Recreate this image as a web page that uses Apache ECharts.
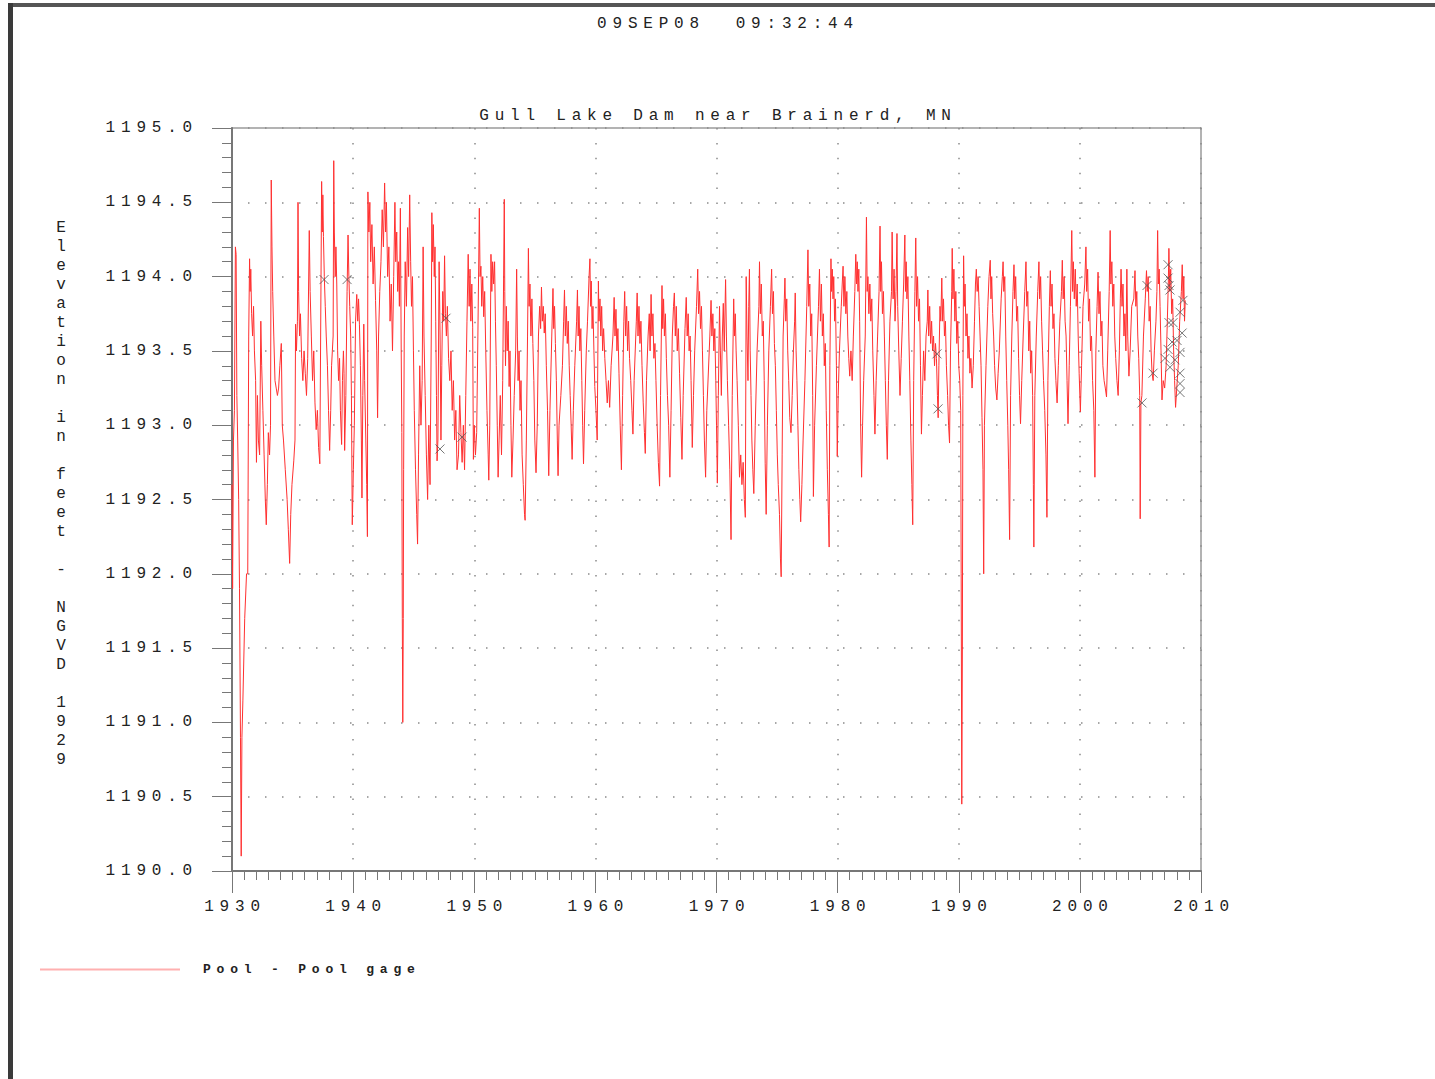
<!DOCTYPE html>
<html>
<head>
<meta charset="utf-8">
<script src="https://cdn.jsdelivr.net/npm/echarts@6/dist/echarts.min.js"></script>
<style>
    html, body { margin: 0; padding: 0; background: #fff; }
    #main { width: 1435px; height: 1079px; }
    #main text { letter-spacing: 5.8px; }
</style>
</head>
<body>
<div id="main"></div>
<script>
// pool elevation, [decimal year, feet NGVD 1929]
let poolGage = [
    [1930.00,1192.6],[1930.05,1191.9],[1930.12,1192.9],[1930.2,1193.1],[1930.28,1194.2],[1930.34,1194.15],[1930.4,1193.2],[1930.47,1192.9],[1930.55,1192.5],[1930.62,1191.9],[1930.7,1190.9],[1930.76,1190.1],[1930.82,1190.9],[1930.9,1191.15],[1931.05,1191.7],[1931.2,1192.0],
    [1931.3,1192.0],[1931.38,1193.6],[1931.45,1194.12],[1931.5,1193.9],[1931.55,1194.05],[1931.62,1193.75],[1931.7,1193.6],[1931.78,1193.8],[1931.85,1193.5],[1931.95,1193.3],
    [1932.02,1192.75],[1932.1,1193.2],[1932.18,1192.9],[1932.28,1192.8],[1932.38,1193.7],[1932.45,1193.4],[1932.55,1193.1],[1932.65,1192.8],[1932.75,1192.5],[1932.83,1192.33],[1932.92,1192.6],[1933.0,1192.95],[1933.1,1192.8],[1933.18,1193.0],
    [1933.24,1194.65],[1933.3,1194.2],[1933.36,1193.9],[1933.45,1193.6],[1933.55,1193.3],[1933.65,1193.25],[1933.75,1193.2],[1933.85,1193.25],[1933.95,1193.4],[1934.07,1193.55],
    [1934.15,1193.0],[1934.25,1192.9],[1934.4,1192.7],[1934.55,1192.5],[1934.65,1192.3],[1934.76,1192.07],[1934.85,1192.4],[1934.95,1192.6],[1935.1,1192.76],[1935.2,1192.9],
    [1935.25,1193.68],[1935.32,1193.5],[1935.4,1193.7],[1935.45,1194.5],[1935.5,1193.9],[1935.58,1193.6],[1935.65,1193.75],[1935.75,1193.45],[1935.85,1193.3],[1935.95,1193.5],[1936.05,1193.35],[1936.15,1193.2],[1936.25,1193.45],
    [1936.38,1194.31],[1936.45,1193.9],[1936.55,1193.6],[1936.65,1193.3],[1936.75,1193.5],[1936.85,1193.15],[1936.95,1192.97],[1937.05,1193.1],[1937.15,1192.85],[1937.25,1192.74],
    [1937.4,1194.64],[1937.45,1194.3],[1937.5,1194.55],[1937.55,1194.27],[1937.62,1194.0],[1937.7,1193.8],[1937.78,1193.6],[1937.88,1193.4],[1937.97,1193.1],[1938.06,1192.83],[1938.15,1193.1],[1938.22,1193.4],
    [1938.35,1193.6],[1938.4,1194.78],[1938.45,1194.3],[1938.52,1194.0],[1938.58,1194.2],[1938.65,1193.95],[1938.72,1193.5],[1938.8,1193.3],[1938.88,1193.45],[1938.95,1193.1],[1939.05,1192.87],[1939.12,1193.3],[1939.2,1193.5],[1939.25,1193.35],[1939.3,1192.83],
    [1939.4,1193.2],[1939.5,1193.9],[1939.58,1194.28],[1939.65,1194.0],[1939.72,1193.8],[1939.8,1193.6],[1939.86,1193.2],[1939.93,1192.33],[1940.02,1192.7],
    [1940.1,1193.0],[1940.2,1193.7],[1940.3,1193.88],[1940.38,1193.7],[1940.45,1193.85],[1940.52,1193.68],[1940.6,1193.4],[1940.68,1192.9],[1940.73,1192.51],[1940.8,1193.2],[1940.88,1193.68],[1940.95,1193.3],[1941.05,1192.9],[1941.12,1192.6],[1941.18,1192.25],
    [1941.22,1194.57],[1941.3,1194.3],[1941.38,1194.5],[1941.45,1194.1],[1941.55,1194.35],[1941.65,1193.95],[1941.75,1194.2],[1941.85,1193.84],[1941.95,1193.5],[1942.02,1193.05],[1942.1,1193.6],[1942.2,1193.9],
    [1942.3,1194.1],[1942.4,1194.45],[1942.5,1194.2],[1942.6,1194.63],[1942.68,1194.3],[1942.75,1194.5],[1942.85,1194.0],[1942.95,1194.2],[1943.05,1193.7],[1943.15,1193.95],[1943.25,1193.5],
    [1943.35,1194.0],[1943.45,1194.5],[1943.52,1194.1],[1943.6,1194.3],[1943.68,1193.9],[1943.75,1194.1],[1943.82,1193.8],[1943.9,1194.46],[1943.97,1193.5],[1944.02,1192.95],[1944.06,1191.7],[1944.1,1191.0],[1944.14,1191.7],[1944.17,1192.7],
    [1944.22,1193.6],[1944.3,1194.1],[1944.4,1193.8],[1944.5,1194.33],[1944.58,1194.0],[1944.67,1194.55],[1944.75,1194.1],[1944.82,1193.8],[1944.9,1194.0],[1944.98,1193.5],[1945.05,1193.1],[1945.15,1192.7],[1945.25,1192.4],[1945.32,1192.2],[1945.4,1192.8],
    [1945.5,1193.4],[1945.6,1193.0],[1945.7,1193.3],[1945.78,1194.2],[1945.85,1193.6],[1945.95,1193.2],[1946.05,1192.8],[1946.15,1192.5],[1946.25,1193.0],[1946.35,1192.6],
    [1946.45,1193.6],[1946.5,1194.43],[1946.56,1194.1],[1946.62,1194.35],[1946.7,1194.0],[1946.76,1194.2],[1946.82,1193.7],[1946.88,1193.2],[1946.93,1192.76],[1947.0,1192.9],
    [1947.1,1194.1],[1947.18,1193.6],[1947.25,1192.9],[1947.32,1193.4],[1947.4,1193.9],[1947.48,1193.7],[1947.55,1194.14],[1947.62,1193.75],[1947.7,1193.6],[1947.78,1193.8],[1947.88,1193.45],[1947.98,1193.3],[1948.08,1193.5],[1948.18,1193.1],[1948.28,1193.3],[1948.38,1192.9],[1948.48,1193.1],[1948.58,1192.7],
    [1948.7,1192.8],[1948.8,1193.2],[1948.9,1192.95],[1949.0,1192.75],[1949.1,1193.0],[1949.2,1192.7],[1949.3,1193.2],[1949.4,1193.7],[1949.5,1194.15],[1949.58,1193.8],[1949.65,1194.05],[1949.72,1193.7],[1949.8,1193.95],[1949.87,1193.66],[1949.93,1192.77],[1950.0,1193.0],[1950.1,1192.8],[1950.2,1192.95],[1950.3,1193.6],
    [1950.42,1194.46],[1950.48,1194.0],[1950.55,1194.07],[1950.62,1193.8],[1950.7,1194.0],[1950.78,1193.73],[1950.86,1193.9],[1950.95,1193.5],[1951.05,1193.1],[1951.15,1192.8],[1951.2,1192.63],[1951.28,1193.0],
    [1951.38,1194.15],[1951.45,1193.9],[1951.52,1194.1],[1951.6,1193.95],[1951.68,1194.1],[1951.75,1193.7],[1951.82,1193.4],[1951.9,1193.0],[1951.97,1192.65],[1952.05,1192.9],[1952.15,1193.2],[1952.25,1192.8],[1952.35,1193.3],
    [1952.48,1194.52],[1952.52,1193.9],[1952.58,1193.4],[1952.65,1193.8],[1952.72,1193.5],[1952.8,1193.7],[1952.88,1193.26],[1952.95,1193.5],[1953.03,1193.0],[1953.1,1192.65],[1953.2,1192.9],[1953.3,1193.2],
    [1953.42,1193.5],[1953.5,1194.05],[1953.56,1193.6],[1953.62,1193.3],[1953.7,1193.5],[1953.78,1193.1],[1953.86,1193.3],[1953.95,1192.8],[1954.05,1192.6],[1954.15,1192.4],[1954.2,1192.36],[1954.3,1192.9],
    [1954.4,1193.6],[1954.47,1194.19],[1954.53,1193.8],[1954.6,1193.95],[1954.68,1193.6],[1954.76,1193.85],[1954.84,1193.55],[1954.92,1193.3],[1955.0,1192.9],[1955.1,1192.68],[1955.2,1193.0],
    [1955.3,1193.6],[1955.4,1193.8],[1955.48,1193.65],[1955.55,1193.93],[1955.62,1193.7],[1955.7,1193.8],[1955.78,1193.62],[1955.86,1193.75],[1955.95,1193.4],[1956.05,1193.1],[1956.15,1192.66],[1956.25,1193.1],
    [1956.4,1193.6],[1956.5,1193.92],[1956.56,1193.65],[1956.63,1193.8],[1956.7,1193.55],[1956.78,1193.3],[1956.86,1192.9],[1956.92,1192.66],[1957.0,1193.0],[1957.15,1193.2],[1957.28,1193.4],
    [1957.38,1193.7],[1957.45,1193.91],[1957.52,1193.6],[1957.6,1193.8],[1957.68,1193.55],[1957.76,1193.7],[1957.84,1193.4],[1957.92,1193.2],[1958.0,1193.0],[1958.08,1192.77],[1958.18,1193.1],[1958.3,1193.4],
    [1958.45,1193.7],[1958.52,1193.91],[1958.58,1193.6],[1958.65,1193.8],[1958.72,1193.5],[1958.8,1193.65],[1958.88,1193.3],[1958.95,1193.0],[1959.02,1192.74],[1959.12,1193.1],[1959.25,1193.5],
    [1959.35,1193.7],[1959.48,1194.0],[1959.55,1194.12],[1959.6,1193.8],[1959.66,1193.97],[1959.73,1193.65],[1959.8,1193.8],[1959.88,1193.5],[1959.95,1193.26],[1960.05,1193.1],[1960.15,1192.9],
    [1960.25,1193.97],[1960.3,1193.7],[1960.38,1193.85],[1960.45,1193.6],[1960.52,1193.8],[1960.6,1193.5],[1960.68,1193.65],[1960.78,1193.45],[1960.88,1193.3],[1960.98,1193.15],[1961.08,1193.3],[1961.18,1193.12],[1961.3,1193.4],
    [1961.45,1193.6],[1961.55,1193.86],[1961.62,1193.6],[1961.7,1193.78],[1961.78,1193.5],[1961.86,1193.65],[1961.95,1193.35],[1962.05,1193.0],[1962.15,1192.7],[1962.25,1193.2],
    [1962.35,1193.7],[1962.42,1193.9],[1962.5,1193.6],[1962.58,1193.8],[1962.66,1193.5],[1962.74,1193.7],[1962.82,1193.45],[1962.92,1193.3],[1963.02,1193.1],[1963.1,1192.94],[1963.2,1193.3],
    [1963.38,1193.7],[1963.45,1193.89],[1963.52,1193.6],[1963.6,1193.8],[1963.68,1193.55],[1963.76,1193.7],[1963.85,1193.4],[1963.95,1193.15],[1964.05,1192.95],[1964.12,1192.81],[1964.22,1193.3],
    [1964.35,1193.6],[1964.45,1193.75],[1964.52,1193.5],[1964.6,1193.88],[1964.67,1193.6],[1964.75,1193.75],[1964.83,1193.45],[1964.92,1193.55],[1965.0,1193.3],[1965.1,1193.0],[1965.2,1192.75],[1965.3,1192.59],[1965.38,1193.2],
    [1965.5,1193.94],[1965.56,1193.65],[1965.63,1193.85],[1965.7,1193.6],[1965.78,1193.75],[1965.86,1193.45],[1965.95,1193.2],[1966.05,1193.0],[1966.15,1192.65],[1966.25,1193.1],
    [1966.35,1193.6],[1966.45,1193.8],[1966.52,1193.89],[1966.6,1193.6],[1966.68,1193.8],[1966.76,1193.5],[1966.85,1193.65],[1966.95,1193.35],[1967.05,1193.05],[1967.15,1192.77],[1967.25,1193.2],
    [1967.4,1193.65],[1967.5,1193.86],[1967.58,1193.6],[1967.66,1193.75],[1967.74,1193.5],[1967.82,1193.6],[1967.9,1193.3],[1968.0,1192.85],[1968.1,1193.2],[1968.2,1193.5],
    [1968.35,1193.8],[1968.45,1194.05],[1968.52,1193.75],[1968.6,1193.9],[1968.68,1193.65],[1968.76,1193.8],[1968.84,1193.5],[1968.92,1193.2],[1969.0,1192.9],[1969.1,1192.65],[1969.2,1193.1],
    [1969.45,1193.6],[1969.55,1193.84],[1969.62,1193.6],[1969.7,1193.75],[1969.78,1193.5],[1969.86,1193.65],[1969.94,1193.3],[1970.0,1193.0],[1970.07,1192.61],[1970.15,1193.2],
    [1970.25,1193.8],[1970.32,1193.5],[1970.4,1193.2],[1970.48,1193.6],[1970.56,1193.82],[1970.64,1193.5],[1970.75,1193.98],[1970.82,1193.6],[1970.9,1193.3],[1971.0,1193.0],[1971.1,1192.7],[1971.2,1192.23],[1971.3,1193.2],
    [1971.42,1193.85],[1971.48,1193.6],[1971.55,1193.75],[1971.62,1193.5],[1971.7,1193.3],[1971.8,1193.0],[1971.9,1192.65],[1972.0,1192.8],[1972.1,1192.6],[1972.2,1192.75],[1972.3,1192.5],[1972.38,1192.38],
    [1972.45,1194.0],[1972.52,1193.6],[1972.6,1193.3],[1972.66,1193.8],[1972.72,1194.05],[1972.78,1193.5],[1972.85,1193.2],[1972.92,1192.9],[1973.0,1192.7],[1973.08,1192.54],[1973.2,1193.0],[1973.35,1193.5],
    [1973.5,1193.8],[1973.55,1194.1],[1973.62,1193.75],[1973.7,1193.95],[1973.78,1193.6],[1973.86,1193.7],[1973.94,1193.3],[1974.02,1192.74],[1974.1,1192.4],[1974.2,1193.0],[1974.32,1193.5],
    [1974.45,1193.8],[1974.55,1194.05],[1974.62,1193.75],[1974.7,1193.9],[1974.78,1193.55],[1974.86,1193.4],[1974.94,1193.1],[1975.02,1192.8],[1975.1,1192.6],[1975.2,1192.4],[1975.28,1192.1],[1975.34,1191.98],[1975.42,1192.8],
    [1975.5,1193.6],[1975.6,1193.85],[1975.65,1193.99],[1975.72,1193.7],[1975.8,1193.85],[1975.88,1193.5],[1975.96,1193.3],[1976.05,1193.05],[1976.15,1192.95],[1976.25,1193.2],
    [1976.35,1193.5],[1976.45,1193.7],[1976.5,1193.89],[1976.57,1193.5],[1976.64,1193.3],[1976.72,1193.0],[1976.8,1192.7],[1976.88,1192.5],[1976.95,1192.35],[1977.05,1192.6],[1977.15,1192.9],[1977.3,1193.3],
    [1977.45,1193.8],[1977.55,1194.18],[1977.62,1193.8],[1977.7,1193.95],[1977.78,1193.6],[1977.86,1193.75],[1977.94,1193.2],[1978.0,1192.52],[1978.1,1193.0],[1978.25,1193.4],
    [1978.42,1193.8],[1978.5,1194.05],[1978.58,1193.7],[1978.66,1193.95],[1978.74,1193.6],[1978.82,1193.75],[1978.9,1193.4],[1978.98,1193.55],[1979.06,1193.1],[1979.15,1192.7],[1979.24,1192.4],[1979.3,1192.18],[1979.36,1193.4],
    [1979.45,1194.12],[1979.5,1193.9],[1979.56,1194.05],[1979.62,1193.85],[1979.68,1194.0],[1979.75,1193.7],[1979.82,1193.85],[1979.9,1193.4],[1979.97,1192.79],[1980.05,1193.2],[1980.15,1193.5],
    [1980.3,1193.8],[1980.38,1193.95],[1980.45,1194.07],[1980.52,1193.8],[1980.6,1194.0],[1980.68,1193.75],[1980.76,1193.9],[1980.84,1193.6],[1980.92,1193.45],[1981.0,1193.33],[1981.1,1193.5],[1981.2,1193.3],[1981.3,1193.6],
    [1981.42,1193.9],[1981.5,1194.15],[1981.56,1193.95],[1981.62,1194.1],[1981.68,1193.9],[1981.75,1194.05],[1981.82,1193.7],[1981.9,1193.0],[1981.98,1192.65],[1982.06,1193.0],[1982.15,1193.3],[1982.28,1193.6],
    [1982.38,1194.4],[1982.44,1193.9],[1982.5,1194.0],[1982.58,1193.75],[1982.66,1193.95],[1982.74,1193.7],[1982.82,1193.85],[1982.9,1193.5],[1983.0,1193.2],[1983.08,1192.94],[1983.18,1193.3],[1983.3,1193.6],
    [1983.42,1193.9],[1983.5,1194.34],[1983.56,1193.9],[1983.62,1194.1],[1983.7,1193.75],[1983.78,1193.9],[1983.86,1193.6],[1983.94,1193.3],[1984.02,1193.0],[1984.1,1192.77],[1984.2,1193.3],[1984.32,1193.7],
    [1984.45,1193.9],[1984.5,1194.3],[1984.58,1193.85],[1984.66,1194.05],[1984.74,1193.7],[1984.82,1193.9],[1984.9,1194.29],[1984.96,1193.8],[1985.05,1193.5],[1985.15,1193.2],[1985.25,1193.45],[1985.35,1193.7],
    [1985.45,1193.95],[1985.55,1194.28],[1985.6,1193.9],[1985.66,1194.1],[1985.72,1193.85],[1985.8,1194.0],[1985.88,1193.6],[1985.96,1193.3],[1986.05,1192.9],[1986.13,1192.6],[1986.2,1192.33],[1986.28,1193.3],
    [1986.38,1193.9],[1986.45,1194.26],[1986.52,1193.8],[1986.6,1194.0],[1986.68,1193.7],[1986.76,1193.85],[1986.84,1193.4],[1986.92,1192.94],[1987.0,1193.2],[1987.1,1193.5],[1987.2,1193.3],[1987.3,1193.6],
    [1987.4,1193.7],[1987.45,1193.91],[1987.52,1193.6],[1987.6,1193.8],[1987.68,1193.55],[1987.76,1193.7],[1987.84,1193.5],[1987.92,1193.6],[1988.0,1193.4],[1988.08,1193.55],[1988.16,1193.45],[1988.24,1193.2],[1988.3,1193.05],[1988.36,1193.4],
    [1988.45,1193.8],[1988.52,1193.7],[1988.6,1193.99],[1988.67,1193.7],[1988.74,1193.85],[1988.82,1193.6],[1988.9,1193.7],[1988.98,1193.4],[1989.08,1193.2],[1989.16,1193.0],[1989.24,1192.88],[1989.32,1193.5],
    [1989.42,1193.9],[1989.46,1194.19],[1989.52,1193.85],[1989.6,1194.05],[1989.68,1193.7],[1989.76,1193.9],[1989.84,1193.55],[1989.92,1193.7],[1990.0,1193.4],[1990.08,1193.3],[1990.16,1193.1],[1990.2,1192.0],[1990.25,1190.45],[1990.3,1191.5],[1990.34,1193.2],
    [1990.4,1194.14],[1990.46,1193.8],[1990.52,1193.95],[1990.6,1193.6],[1990.68,1193.75],[1990.76,1193.45],[1990.84,1193.6],[1990.92,1193.35],[1991.0,1193.45],[1991.1,1193.25],[1991.2,1193.4],
    [1991.3,1193.7],[1991.38,1193.95],[1991.45,1194.05],[1991.52,1193.9],[1991.6,1194.0],[1991.68,1193.8],[1991.76,1193.6],[1991.84,1193.4],[1991.92,1193.05],[1992.0,1192.7],[1992.06,1192.0],[1992.12,1193.0],[1992.25,1193.4],
    [1992.4,1193.8],[1992.5,1194.0],[1992.6,1194.11],[1992.66,1193.85],[1992.72,1194.0],[1992.8,1193.75],[1992.88,1193.6],[1992.96,1193.4],[1993.05,1193.25],[1993.15,1193.17],[1993.25,1193.35],[1993.35,1193.5],
    [1993.5,1193.85],[1993.6,1194.0],[1993.66,1194.1],[1993.72,1193.9],[1993.8,1194.0],[1993.88,1193.6],[1993.96,1193.3],[1994.05,1193.0],[1994.12,1192.7],[1994.2,1192.23],[1994.28,1193.2],[1994.38,1193.6],
    [1994.48,1193.9],[1994.56,1194.08],[1994.62,1193.85],[1994.7,1194.0],[1994.78,1193.7],[1994.86,1193.8],[1994.94,1193.45],[1995.02,1193.2],[1995.1,1193.01],[1995.2,1193.3],[1995.32,1193.6],
    [1995.45,1193.9],[1995.55,1194.1],[1995.62,1193.8],[1995.7,1193.9],[1995.78,1193.5],[1995.86,1193.7],[1995.94,1193.35],[1996.02,1193.5],[1996.1,1193.2],[1996.16,1192.6],[1996.2,1192.18],[1996.28,1193.2],[1996.4,1193.6],
    [1996.52,1193.9],[1996.62,1194.1],[1996.68,1193.85],[1996.76,1194.0],[1996.84,1193.7],[1996.92,1193.5],[1997.0,1193.3],[1997.1,1193.1],[1997.2,1192.8],[1997.28,1192.38],[1997.36,1193.3],
    [1997.48,1193.8],[1997.56,1194.04],[1997.62,1193.8],[1997.7,1193.95],[1997.78,1193.65],[1997.86,1193.75],[1997.94,1193.45],[1998.02,1193.3],[1998.12,1193.15],[1998.22,1193.4],[1998.35,1193.7],
    [1998.48,1193.9],[1998.55,1194.11],[1998.62,1193.85],[1998.7,1194.0],[1998.78,1193.7],[1998.86,1193.6],[1998.94,1193.3],[1999.02,1193.01],[1999.12,1193.4],[1999.22,1193.8],
    [1999.33,1194.31],[1999.4,1193.9],[1999.46,1194.1],[1999.54,1193.85],[1999.62,1194.05],[1999.7,1193.8],[1999.78,1193.95],[1999.86,1193.6],[1999.94,1193.35],[2000.04,1193.09],[2000.14,1193.4],[2000.26,1193.8],
    [2000.4,1193.95],[2000.5,1194.2],[2000.56,1193.9],[2000.64,1194.05],[2000.72,1193.7],[2000.8,1193.85],[2000.88,1193.5],[2000.96,1193.6],[2001.05,1193.3],[2001.15,1193.1],[2001.24,1192.65],[2001.32,1193.5],
    [2001.42,1193.8],[2001.5,1194.03],[2001.58,1193.75],[2001.66,1193.9],[2001.74,1193.6],[2001.82,1193.7],[2001.9,1193.4],[2002.0,1193.3],[2002.1,1193.25],[2002.2,1193.19],[2002.3,1193.5],
    [2002.42,1193.9],[2002.5,1194.31],[2002.56,1193.95],[2002.64,1194.1],[2002.72,1193.8],[2002.8,1193.95],[2002.88,1193.6],[2002.96,1193.45],[2003.06,1193.3],[2003.16,1193.2],[2003.26,1193.5],
    [2003.34,1193.85],[2003.4,1194.05],[2003.48,1193.8],[2003.56,1193.95],[2003.64,1193.6],[2003.72,1193.75],[2003.8,1193.5],[2003.88,1194.05],[2003.95,1193.6],[2004.05,1193.33],[2004.15,1193.5],[2004.28,1193.8],
    [2004.45,1193.85],[2004.55,1194.04],[2004.62,1193.8],[2004.7,1193.9],[2004.78,1193.6],[2004.86,1193.45],[2004.94,1193.2],[2004.98,1192.37],[2005.04,1193.15],[2005.12,1193.2],[2005.25,1193.6],
    [2005.4,1193.85],[2005.5,1194.04],[2005.56,1193.9],[2005.64,1194.0],[2005.72,1193.7],[2005.8,1193.8],[2005.88,1193.5],[2005.96,1193.35],[2006.05,1193.3],[2006.15,1193.5],[2006.28,1193.7],
    [2006.36,1193.9],[2006.42,1194.31],[2006.48,1193.95],[2006.55,1194.05],[2006.62,1193.8],[2006.7,1193.5],[2006.78,1193.17],[2006.88,1193.3],[2007.0,1193.25],[2007.12,1193.4],[2007.22,1193.7],
    [2007.3,1193.95],[2007.35,1194.19],[2007.42,1193.9],[2007.5,1194.05],[2007.58,1193.75],[2007.66,1193.85],[2007.74,1193.5],[2007.82,1193.3],[2007.9,1193.12],[2008.0,1193.25],[2008.12,1193.4],[2008.24,1193.7],
    [2008.38,1193.9],[2008.45,1194.08],[2008.52,1193.85],[2008.58,1194.0],[2008.64,1193.7],[2008.7,1193.84]
]

// manual gage readings drawn as x marks
let observed = [
    [1937.6,1193.98],[1939.5,1193.98],[1947.67,1193.72],[1947.17,1192.84],[1948.99,1192.92],
    [1988.2,1193.48],[1988.29,1193.11],
    [2005.54,1193.94],[2006.04,1193.35],[2005.13,1193.15],
    [2007.28,1194.08],[2007.28,1193.99],[2007.36,1193.94],[2007.44,1193.91],[2008.51,1193.84],
    [2008.27,1193.76],[2007.69,1193.69],[2007.36,1193.69],[2008.02,1193.57],[2007.61,1193.56],
    [2007.28,1193.51],[2008.27,1193.49],[2007.03,1193.45],[2007.44,1193.39],[2008.27,1193.35],
    [2008.27,1193.28],[2008.27,1193.22],[2008.44,1193.62],[2007.85,1193.44]
]

let yearTicks = [1930, 2010, 10]
let elevTicks = [1190, 1195, 0.5]

let monoFont = "'Liberation Mono', 'DejaVu Sans Mono', monospace"

let myChart = echarts.init(document.getElementById('main'), null, { renderer: 'svg' })

let option = {
    backgroundColor: '#ffffff',
    animation: false,
    grid: {
        left: 232,
        right: 234,
        top: 128,
        bottom: 208,
        show: true,
        borderColor: '#9a9a9a',
        borderWidth: 1.5,
    },
    legend: {
        left: 35,
        top: 958,
        itemWidth: 140,
        itemHeight: 2,
        data: [{ name: 'Pool - Pool gage', icon: 'rect', itemStyle: { color: '#ffb0b0' } }],
        textStyle: {
            fontFamily: monoFont,
            fontSize: 13,
            fontWeight: 'bold',
            color: '#222',
            padding: [0, 0, 0, 18],
        },
    },
    xAxis: {
        type: 'value',
        min: yearTicks[0],
        max: yearTicks[1],
        interval: yearTicks[2],
        axisLine: { lineStyle: { color: '#777', width: 2 } },
        axisTick: { length: 22, lineStyle: { color: '#777', width: 1 } },
        minorTick: { show: true, splitNumber: 10, length: 9, lineStyle: { color: '#777', width: 1 } },
        axisLabel: {
            margin: 28,
            fontFamily: monoFont,
            fontSize: 16,
            color: '#222',
            padding: [0, 0, 0, 6],
            formatter: function (v) {
                return String(v)
            },
        },
        splitLine: {
            show: true,
            lineStyle: { color: '#8a8a8a', width: 1.5, type: [1.5, 13.4], dashOffset: 0 },
        },
    },
    yAxis: {
        type: 'value',
        min: elevTicks[0],
        max: elevTicks[1],
        interval: elevTicks[2],
        axisLine: { show: true, lineStyle: { color: '#777', width: 2 } },
        axisTick: { show: true, length: 20, lineStyle: { color: '#777', width: 1 } },
        minorTick: { show: true, splitNumber: 5, length: 10, lineStyle: { color: '#777', width: 1 } },
        axisLabel: {
            margin: 34,
            fontFamily: monoFont,
            fontSize: 16,
            color: '#222',
            formatter: function (v) {
                return v.toFixed(1)
            },
        },
        splitLine: {
            show: true,
            lineStyle: { color: '#8a8a8a', width: 1.5, type: [1.5, 15.5], dashOffset: -16 },
        },
    },
    graphic: [
        // page frame edges
        { type: 'rect', shape: { x: 8, y: 3, width: 1427, height: 4 }, style: { fill: '#555' } },
        { type: 'rect', shape: { x: 8, y: 3, width: 5, height: 1076 }, style: { fill: '#3a3a3a' } },
        {
            type: 'text', x: 728, y: 24,
            style: { text: '09SEP08  09:32:44', font: '16px ' + monoFont, fill: '#222', align: 'center', verticalAlign: 'middle' },
        },
        {
            type: 'text', x: 718, y: 116,
            style: { text: 'Gull Lake Dam near Brainerd, MN', font: '16px ' + monoFont, fill: '#222', align: 'center', verticalAlign: 'middle' },
        },
        {
            type: 'text', x: 64, y: 218,
            style: {
                text: 'Elevation in feet - NGVD 1929'.split('').join('\n'),
                font: '16px ' + monoFont, fill: '#222', align: 'center', verticalAlign: 'top', lineHeight: 19,
            },
        },
    ],
    series: [
        {
            name: 'Pool - Pool gage',
            type: 'line',
            data: poolGage,
            showSymbol: false,
            symbol: 'none',
            lineStyle: { color: '#ff3030', width: 1 },
            itemStyle: { color: '#ffb0b0' },
            z: 2,
        },
        {
            name: 'Observed',
            type: 'scatter',
            data: observed,
            symbol: 'path://M0,0L10,10M10,0L0,10',
            symbolSize: 9,
            itemStyle: { color: 'none', borderColor: '#555', borderWidth: 1 },
            z: 3,
        },
    ],
}

myChart.clear()
myChart.setOption(option)
</script>
</body>
</html>
